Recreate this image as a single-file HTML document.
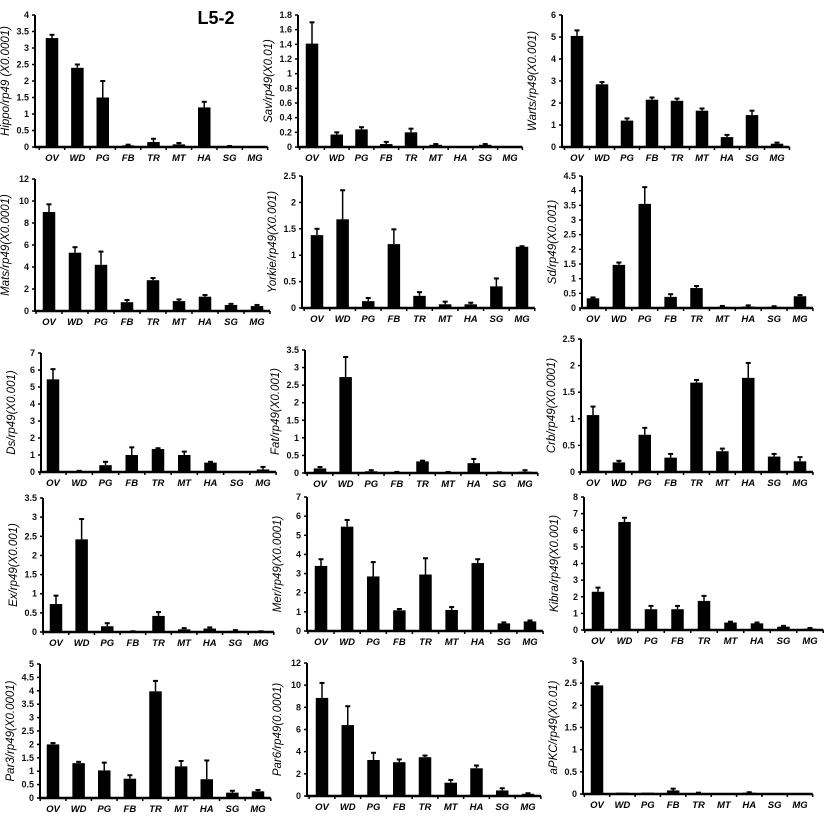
<!DOCTYPE html>
<html><head><meta charset="utf-8"><style>
html,body{margin:0;padding:0;background:#fff}
svg{display:block}
text{font-family:"Liberation Sans",sans-serif}
</style></head><body>
<svg id="s" width="825" height="821" viewBox="0 0 825 821" xmlns="http://www.w3.org/2000/svg">
<text x="216" y="24" font-size="18" font-weight="bold" text-anchor="middle">L5-2</text>
</svg>
<script>
var cats=["OV","WD","PG","FB","TR","MT","HA","SG","MG"];
var P=[
[35,15,147,4,0.5,52,255,"Hippo/rp49 (X0.0001)",[[3.3,3.4],[2.4,2.5],[1.5,2.0],[.05,.07],[.15,.25],[.08,.12],[1.2,1.37],[.02,.03],[.01,.01]],1],
[298,15,147,1.8,0.2,312,510,"Sav/rp49(X0.01)",[[1.41,1.7],[.17,.2],[.24,.27],[.04,.07],[.2,.25],[.03,.04],[.01,.01],[.03,.04],[.01,.01]],1],
[562,15,147,6,1,577,777,"Warts/rp49(X0.001)",[[5.05,5.3],[2.85,2.95],[1.2,1.3],[2.15,2.25],[2.1,2.2],[1.65,1.75],[.45,.55],[1.45,1.65],[.15,.2]],0],
[35,179,311,12,2,49,257,"Mats/rp49(X0.0001)",[[9,9.7],[5.3,5.8],[4.2,5.4],[.8,1.0],[2.8,3.0],[.9,1.05],[1.3,1.45],[.55,.65],[.45,.55]],0],
[302,176,308,2.5,0.5,317,522,"Yorkie/rp49(X0.001)",[[1.38,1.5],[1.68,2.23],[.13,.19],[1.21,1.49],[.23,.3],[.07,.12],[.07,.1],[.41,.56],[1.16,1.17]],0],
[582,176,308,4.5,0.5,593,800,"Sd/rp49(X0.001)",[[.33,.36],[1.47,1.55],[3.55,4.12],[.38,.47],[.68,.75],[.04,.07],[.05,.09],[.04,.06],[.4,.44]],0],
[41,353,472,7,1,53,263,"Ds/rp49(X0.001)",[[5.45,6.05],[.05,.07],[.4,.6],[1.0,1.45],[1.35,1.4],[1.0,1.2],[.55,.6],[0,0],[.15,.3]],0],
[305,350,473,3.5,0.5,320,525,"Fat/rp49(X0.001)",[[.13,.17],[2.73,3.3],[.05,.08],[.02,.03],[.33,.35],[.02,.03],[.28,.4],[.01,.02],[.04,.08]],0],
[581,339,472,2.5,0.5,593,800,"Crb/rp49(X0.0001)",[[1.07,1.23],[.18,.21],[.7,.83],[.27,.34],[1.68,1.73],[.39,.44],[1.77,2.05],[.29,.34],[.2,.28]],0],
[43,498,632,3.5,0.5,56,261,"Ex/rp49(X0.001)",[[.73,.95],[2.42,2.95],[.15,.23],[.01,.02],[.42,.52],[.07,.1],[.09,.12],[.03,.05],[.01,.02]],0],
[307,497,631,7,1,321,530,"Mer/rp49(X0.0001)",[[3.4,3.75],[5.45,5.8],[2.85,3.6],[1.08,1.15],[2.95,3.8],[1.1,1.25],[3.55,3.75],[.4,.45],[.5,.55]],0],
[584,497,630,8,1,598,810,"Kibra/rp49(X0.001)",[[2.3,2.55],[6.5,6.75],[1.25,1.45],[1.25,1.45],[1.75,2.05],[.45,.5],[.4,.45],[.2,.25],[.08,.12]],0],
[40,664,798,5,0.5,53,258,"Par3/rp49(X0.0001)",[[2.0,2.05],[1.3,1.35],[1.03,1.32],[.72,.85],[3.98,4.37],[1.18,1.38],[.7,1.4],[.2,.27],[.25,.3]],0],
[307,663,796,12,2,322,528,"Par6/rp49(0.0001)",[[8.85,10.2],[6.4,8.1],[3.25,3.9],[3.05,3.3],[3.5,3.65],[1.2,1.45],[2.5,2.75],[.5,.7],[.2,.25]],0],
[583,661,794,3,0.5,597,800,"aPKC/rp49(X0.01)",[[2.45,2.5],[.03,.03],[.03,.03],[.08,.12],[.02,.03],[.01,.01],[.03,.04],[0,0],[0,0]],0]
];
var h='';
P.forEach(function(p){
 var ax=p[0],ty=p[1],zy=p[2],mx=p[3],st=p[4],c0=p[5],c8=p[6],lab=p[7],d=p[8];
 var sp=(c8-c0)/8, end=c8+sp/2, sc=(zy-ty)/mx;
 h+='<line x1="'+ax+'" y1="'+ty+'" x2="'+ax+'" y2="'+(zy+1)+'" stroke="#000" stroke-width="2"/>';
 h+='<line x1="'+ax+'" y1="'+zy+'" x2="'+end+'" y2="'+zy+'" stroke="#000" stroke-width="2.5"/>';
 for(var v=0;v<=mx+1e-9;v+=st){
  var y=zy-v*sc; var t=Math.round(v*10)/10;
  h+='<line x1="'+(ax-3)+'" y1="'+y+'" x2="'+ax+'" y2="'+y+'" stroke="#000" stroke-width="1.5"/>';
  h+='<text x="'+(ax-6)+'" y="'+(y+3)+'" font-size="9" font-weight="bold" text-anchor="end" fill="#111">'+t+'</text>';
 }
 for(var i=0;i<=9;i++){var x=c0-sp/2+i*sp;
  h+='<line x1="'+x+'" y1="'+zy+'" x2="'+x+'" y2="'+(zy+3)+'" stroke="#000" stroke-width="1.5"/>';}
 d.forEach(function(b,i){
  var cx=c0+i*sp, bw=12.5, y=zy-b[0]*sc, ey=zy-b[1]*sc;
  if(b[1]>b[0]){h+='<line x1="'+cx+'" y1="'+ey+'" x2="'+cx+'" y2="'+y+'" stroke="#000" stroke-width="1.5"/><line x1="'+(cx-2.5)+'" y1="'+ey+'" x2="'+(cx+2.5)+'" y2="'+ey+'" stroke="#000" stroke-width="2"/>';}
  if(b[0]>0) h+='<rect x="'+(cx-bw/2)+'" y="'+y+'" width="'+bw+'" height="'+(zy-y)+'" fill="#000"/>';
  h+='<text x="'+cx+'" y="'+(zy+14)+'" font-size="9.5" font-weight="bold" font-style="italic" text-anchor="middle">'+cats[i]+'</text>';
 });
 var ly=(ty+zy)/2, lx=ax-26;
 h+='<text transform="translate('+lx+','+ly+') rotate(-90)" font-size="11.5" font-style="italic" text-anchor="middle">'+lab+'</text>';
});
document.getElementById('s').insertAdjacentHTML('beforeend',h);
</script>
</body></html>
